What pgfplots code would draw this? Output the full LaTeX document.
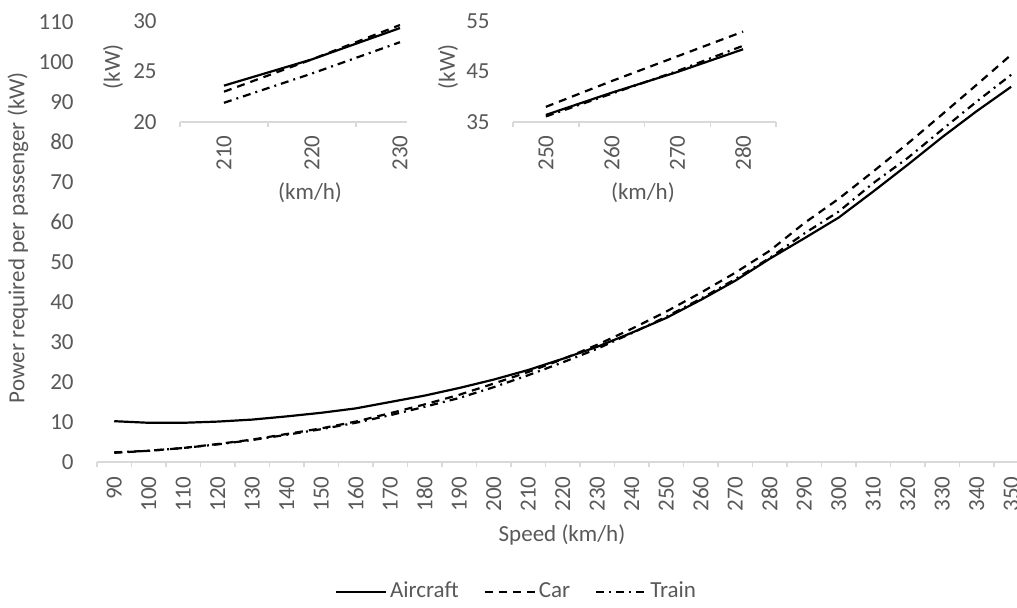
\documentclass[border=0pt]{standalone}
\usepackage{fontspec}
\setmainfont{Carlito}
\usepackage{pgfplots}
\pgfplotsset{compat=1.18}
\definecolor{txt}{HTML}{595959}
\definecolor{axl}{HTML}{D9D9D9}
\pgfplotsset{
  exstyle/.style={
    scale only axis,
    axis lines*=left,
    y axis line style={draw=none},
    x axis line style={draw=axl, line width=0.75pt},
    tick align=outside,
    major tick length=0pt,
    minor tick length=2.5pt,
    minor tick style={draw=axl, line width=0.75pt},
    ytick style={draw=none},
    tick label style={font=\fontsize{11.5}{13}\selectfont, text=txt},
    label style={font=\fontsize{11.5}{13}\selectfont, text=txt},
    /pgf/number format/assume math mode=true,
    yticklabel style={anchor=east, inner sep=0pt},
  },
  air/.style={black, line width=1.1pt, line join=round},
  car/.style={black, line width=1.1pt, line join=round, dash pattern=on 4pt off 3pt},
  trn/.style={black, line width=1.1pt, line join=round, dash pattern=on 4pt off 2.5pt on 1pt off 2.5pt},
}
\begin{document}
\begin{tikzpicture}
\useasboundingbox (0,0) rectangle (508.5pt,304pt);
% main axis
\begin{axis}[exstyle,
  at={(48.5pt,73pt)}, anchor=south west,
  width=460pt, height=220pt,
  xmin=85, xmax=351.7, ymin=0, ymax=110,
  xtick={90,100,...,350}, minor xtick={85,95,...,345},
  ytick={0,10,...,110},
  xticklabel style={yshift=-7pt, rotate=90, anchor=east, inner sep=0pt},
  yticklabel style={xshift=-11.5pt},
  xlabel={Speed (km/h)},
  ylabel={Power required per passenger (kW)},
  xlabel style={at={(axis description cs:0.5054,-0.166)}, anchor=center},
  ylabel style={at={(axis description cs:-0.0859,0.51)}, anchor=center},
  legend columns=3,
  legend style={draw=none, fill=none, at={(axis description cs:0.4565,-0.2955)}, anchor=center,
    font=\fontsize{11.5}{13}\selectfont, text=txt,
    nodes={inner sep=1.5pt, text height=1.6ex, text depth=0.4ex},
    /tikz/every even column/.append style={column sep=11pt}},
  legend image code/.code={\draw[#1] (0pt,0pt) -- (25pt,0pt);},
]
\addplot[air] coordinates {
(90,10.2) (100,9.8) (110,9.8) (120,10.1) (130,10.6) (140,11.4) (150,12.3) (160,13.4)
(170,15.0) (180,16.6) (190,18.5) (200,20.6) (210,23.0) (220,25.8) (230,28.8) (240,32.3)
(250,36.0) (260,40.5) (270,45.3) (280,50.8) (290,55.9) (300,61.1) (310,67.6) (320,74.3)
(330,81.2) (340,87.7) (350,93.8)};
\addlegendentry{Aircraft}
\addplot[car] coordinates {
(90,2.3) (100,2.8) (110,3.5) (120,4.5) (130,5.6) (140,7.0) (150,8.4) (160,10.1)
(170,12.2) (180,14.4) (190,16.8) (200,19.6) (210,22.5) (220,25.7) (230,29.3) (240,33.3)
(250,37.6) (260,42.3) (270,47.3) (280,52.8) (290,59.7) (300,65.8) (310,72.6) (320,79.6)
(330,86.9) (340,94.3) (350,101.8)};
\addlegendentry{Car}
\addplot[trn] coordinates {
(90,2.4) (100,2.8) (110,3.5) (120,4.4) (130,5.5) (140,6.8) (150,8.2) (160,9.8)
(170,11.7) (180,13.8) (190,16.0) (200,18.7) (210,21.7) (220,24.9) (230,28.3) (240,32.2)
(250,36.3) (260,40.8) (270,45.7) (280,51.0) (290,57.1) (300,62.6) (310,69.7) (320,76.0)
(330,83.1) (340,90.1) (350,96.8)};
\addlegendentry{Train}
\end{axis}
% inset 1
\begin{axis}[exstyle,
  at={(90pt,243pt)}, anchor=south west,
  width=113.5pt, height=50.5pt,
  xmin=205, xmax=230.8, ymin=20, ymax=30,
  xtick={210,220,230}, minor xtick={205,215,225},
  ytick={20,25,30},
  xticklabel style={yshift=-6.5pt, rotate=90, anchor=east, inner sep=0pt},
  yticklabel style={xshift=-11.5pt},
  xlabel={(km/h)}, ylabel={(kW)},
  xlabel style={at={(axis description cs:0.573,-0.703)}, anchor=center},
  ylabel style={at={(axis description cs:-0.295,0.545)}, anchor=center},
]
\addplot[air] coordinates {(210,23.6) (220,26.2) (230,29.3)};
\addplot[car] coordinates {(210,23.0) (220,26.2) (230,29.6)};
\addplot[trn] coordinates {(210,21.9) (220,24.8) (230,27.9)};
\end{axis}
% inset 2
\begin{axis}[exstyle,
  at={(256.5pt,243pt)}, anchor=south west,
  width=131.5pt, height=50.5pt,
  xmin=245, xmax=285, ymin=35, ymax=55,
  xtick={250,260,270,280}, minor xtick={245,255,...,285},
  ytick={35,45,55},
  xticklabel style={yshift=-6.5pt, rotate=90, anchor=east, inner sep=0pt},
  yticklabel style={xshift=-11.5pt},
  xlabel={(km/h)}, ylabel={(kW)},
  xlabel style={at={(axis description cs:0.494,-0.703)}, anchor=center},
  ylabel style={at={(axis description cs:-0.247,0.545)}, anchor=center},
]
\addplot[air] coordinates {(250,36.4) (260,40.8) (270,44.9) (280,49.4)};
\addplot[car] coordinates {(250,38.0) (260,43.1) (270,48.0) (280,52.9)};
\addplot[trn] coordinates {(250,36.1) (260,40.6) (270,45.1) (280,50.1)};
\end{axis}
\end{tikzpicture}
\end{document}
